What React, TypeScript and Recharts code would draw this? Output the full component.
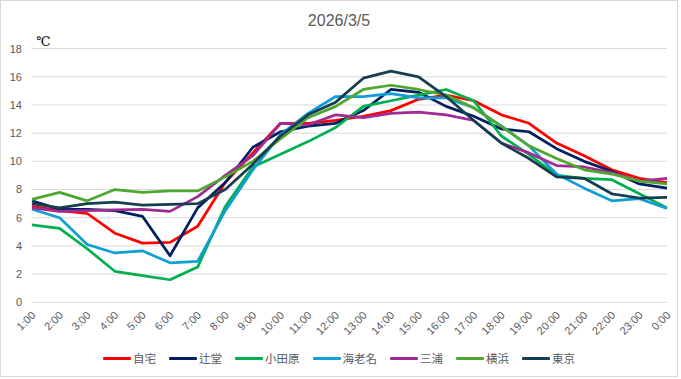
import { LineChart, Line, XAxis, YAxis, CartesianGrid, Legend } from "recharts";

// hourly temperatures for 2026/3/5
const hours = [
  "1:00", "2:00", "3:00", "4:00", "5:00", "6:00", "7:00", "8:00",
  "9:00", "10:00", "11:00", "12:00", "13:00", "14:00", "15:00", "16:00",
  "17:00", "18:00", "19:00", "20:00", "21:00", "22:00", "23:00", "0:00",
];

const jitaku = [6.8, 6.5, 6.3, 4.9, 4.2, 4.25, 5.4, 8.5, 10.6, 12.7, 12.7, 12.9, 13.2, 13.6, 14.4, 14.7, 14.3, 13.3, 12.7, 11.3, 10.4, 9.4, 8.8, 8.5];
const tsujido = [7.2, 6.6, 6.6, 6.5, 6.1, 3.3, 6.7, 8.5, 11.0, 12.1, 12.5, 12.7, 13.6, 15.1, 14.9, 13.9, 13.2, 12.3, 12.1, 10.9, 10.0, 9.3, 8.4, 8.1];
const odawara = [5.5, 5.25, 3.8, 2.2, 1.9, 1.6, 2.5, 6.8, 9.6, 10.5, 11.4, 12.4, 13.9, 14.3, 14.7, 15.1, 14.3, 11.8, 10.5, 9.0, 8.8, 8.7, 7.7, 6.7];
const ebina = [6.6, 6.0, 4.1, 3.5, 3.65, 2.8, 2.9, 6.5, 9.4, 11.9, 13.4, 14.6, 14.6, 14.8, 14.5, 14.5, 13.8, 12.5, 11.1, 9.1, 8.1, 7.2, 7.35, 6.65];
const miura = [6.7, 6.45, 6.5, 6.55, 6.6, 6.45, 7.5, 9.0, 10.4, 12.7, 12.6, 13.3, 13.1, 13.4, 13.5, 13.3, 12.9, 11.3, 10.6, 9.7, 9.6, 9.2, 8.6, 8.8];
const yokohama = [7.3, 7.8, 7.2, 8.0, 7.8, 7.9, 7.9, 8.9, 10.0, 11.6, 13.1, 13.9, 15.1, 15.4, 15.1, 14.7, 13.8, 12.5, 11.1, 10.2, 9.4, 9.1, 8.6, 8.4];
const tokyo = [7.0, 6.7, 7.0, 7.1, 6.9, 6.95, 7.0, 8.0, 9.8, 11.8, 13.3, 14.2, 15.9, 16.4, 16.0, 14.6, 12.9, 11.3, 10.2, 8.9, 8.8, 7.7, 7.4, 7.45];

const yTicks = [0, 2, 4, 6, 8, 10, 12, 14, 16, 18];

const series = [
  { key: "自宅", values: jitaku, color: "#FF0000" },
  { key: "辻堂", values: tsujido, color: "#002060" },
  { key: "小田原", values: odawara, color: "#00B050" },
  { key: "海老名", values: ebina, color: "#0F9ED5" },
  { key: "三浦", values: miura, color: "#A02B93" },
  { key: "横浜", values: yokohama, color: "#4EA72E" },
  { key: "東京", values: tokyo, color: "#153E50" },
];

const data = hours.map((hour, i) => {
  const row: Record<string, string | number> = { hour };
  series.forEach((s) => {
    row[s.key] = s.values[i];
  });
  return row;
});

const SANS = "'Liberation Sans', Arial, sans-serif";
const JP = "'Noto Sans CJK JP', sans-serif";

const HourTick = (props: any) => {
  const { x, y, payload } = props;
  return (
    <text
      x={x}
      y={y}
      dx={-1}
      dy={7}
      textAnchor="end"
      fill="#595959"
      fontSize={11}
      fontFamily={SANS}
      transform={`rotate(-45 ${x} ${y})`}
    >
      {payload.value}
    </text>
  );
};

const LegendRow = () => (
  <div
    style={{
      display: "flex",
      justifyContent: "center",
      alignItems: "center",
      fontFamily: JP,
      fontSize: 11.5,
      color: "#595959",
    }}
  >
    {series.map((s, i) => (
      <span
        key={s.key}
        style={{ display: "flex", alignItems: "center", marginLeft: i === 0 ? 0 : 13 }}
      >
        <span style={{ width: 28, height: 3, background: s.color, marginRight: 2, borderRadius: 1 }} />
        {s.key}
      </span>
    ))}
  </div>
);

export default function App() {
  return (
    <div
      style={{
        position: "absolute",
        left: 0,
        top: 0,
        width: 678,
        height: 377,
        boxSizing: "border-box",
        border: "1px solid #D9D9D9",
        background: "#fff",
      }}
    >
      <div
        style={{
          position: "absolute",
          top: 11,
          left: 0,
          width: 676,
          textAlign: "center",
          fontFamily: SANS,
          fontSize: 16,
          color: "#595959",
        }}
      >
        2026/3/5
      </div>
      <div
        style={{
          position: "absolute",
          top: 33,
          left: 35,
          fontFamily: "'DejaVu Serif', serif",
          fontSize: 13,
          color: "#000",
        }}
      >
        ℃
      </div>
      <LineChart
        width={676}
        height={375}
        data={data}
        margin={{ top: 47.6, right: 10, left: 0, bottom: 33.7 }}
      >
        <CartesianGrid vertical={false} stroke="#D9D9D9" strokeWidth={1} />
        <XAxis
          dataKey="hour"
          interval={0}
          axisLine={false}
          tickLine={false}
          height={40}
          tick={<HourTick />}
        />
        <YAxis
          width={31}
          domain={[0, 18]}
          ticks={yTicks}
          axisLine={false}
          tickLine={false}
          tickMargin={4}
          tick={{ fontSize: 11, fill: "#595959", fontFamily: SANS }}
        />
        <Legend
          verticalAlign="middle"
          align="center"
          layout="horizontal"
          wrapperStyle={{ top: 349, left: 0, width: 676 }}
          content={<LegendRow />}
        />
        {series.map((s) => (
          <Line
            key={s.key}
            type="linear"
            dataKey={s.key}
            stroke={s.color}
            strokeWidth={2.75}
            strokeLinejoin="round"
            dot={false}
            activeDot={false}
            isAnimationActive={false}
          />
        ))}
      </LineChart>
    </div>
  );
}
